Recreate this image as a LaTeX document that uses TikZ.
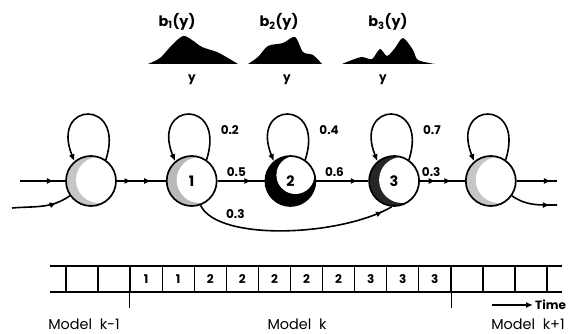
\documentclass[tikz,border=0pt]{standalone}
\usepackage{fontspec}
\setmainfont{Poppins}
\usetikzlibrary{positioning,arrows.meta,decorations.markings}

\tikzset{
  hstate/.style={circle, draw, line width=1.7pt, minimum size=50pt, inner sep=0pt, font=\bfseries\Large},
  speck/.style={path picture={
      \fill[#1] (path picture bounding box.south west) rectangle (path picture bounding box.north east);
      \fill[white] ([xshift=8pt,yshift=1pt]path picture bounding box.center) circle (23pt);}},
  blot/.style={path picture={
      \fill[black] (path picture bounding box.south west) rectangle (path picture bounding box.north east);
      \fill[white] ([xshift=5pt,yshift=6pt]path picture bounding box.center) circle (19pt);}},
  trans/.style={line width=1.6pt},
  arr/.style={-{Latex[length=7pt,width=6pt]}},
  marr/.style={postaction={decorate}, decoration={markings,
      mark=at position #1 with {\arrow{Latex[length=7pt,width=6pt]}}}},
  dmarr/.style 2 args={postaction={decorate}, decoration={markings,
      mark=at position #1 with {\arrow{Latex[length=7pt,width=6pt]}},
      mark=at position #2 with {\arrow{Latex[length=7pt,width=6pt]}}}},
  prob/.style={font=\bfseries\large},
  cell/.style={draw, line width=1.4pt, minimum width=32.07pt, minimum height=26pt, inner sep=0pt, font=\bfseries\large},
  dens/.style={fill=black, line width=0.8pt},
  model/.style={font=\Large, anchor=base},
}

\begin{document}
\begin{tikzpicture}[x=1pt,y=1pt]
    \useasboundingbox (0,0) rectangle (582,334);

    % output densities
    \fill[dens] plot[smooth] coordinates {(148,270) (160,276) (172,289) (183,298) (192,294) (202,287) (217,282) (228,276) (238,270)} -- cycle;
    \fill[dens] plot[smooth] coordinates {(248,270) (258,277) (268,288) (283,291) (295,297) (303,282) (313,279) (322,270)} -- cycle;
    \fill[dens] plot[smooth] coordinates {(342,270) (352,274) (362,277) (372,275) (380,285) (387,278) (395,286) (403,296) (413,284) (418,274) (435,270)} -- cycle;
    \node[prob,font=\bfseries\Large] (b1) at (177,312) {b\textsubscript{1}(y)};
    \node[prob,font=\bfseries\Large] (b2) at (279,312) {b\textsubscript{2}(y)};
    \node[prob,font=\bfseries\Large] (b3) at (388,312) {b\textsubscript{3}(y)};
    \node[prob] (y1) at (192,254) {y};
    \node[prob] (y2) at (287,254) {y};
    \node[prob] (y3) at (383,254) {y};

    % states
    \node[hstate,speck=gray!45] (s0) at (91,153) {};
    \node[hstate,speck=gray!55,right=49pt of s0] (s1) {1};
    \node[hstate,blot,right=47pt of s1] (s2) {2};
    \node[hstate,speck=black!85,right=52pt of s2] (s3) {3};
    \node[hstate,speck=gray!45,right=45pt of s3] (s4) {};

    % self loops
    \foreach \s/\p in {s0/,s1/0.2,s2/0.4,s3/0.7,s4/}
      \draw[trans,arr] (\s.55) .. controls +(72:65pt) and +(112:65pt) .. (\s.130)
        node[prob,pos=0.2,right=8pt] {\p};

    % transitions
    \coordinate (in1) at (20,153);
    \coordinate (in2) at (12,126);
    \coordinate (out1) at (557,153);
    \coordinate (out2) at (557,129);
    \draw[trans,marr=0.75] (in1) -- (s0);
    \draw[trans,marr=0.75] (in2) to[out=5,in=215] (s0.215);
    \draw[trans,dmarr={0.3}{0.7}] (s0) -- (s1);
    \draw[trans,marr=0.72] (s1) -- (s2) node[prob,pos=0.4,above] {0.5};
    \draw[trans,marr=0.8] (s2) -- (s3) node[prob,pos=0.35,above] {0.6};
    \draw[trans,dmarr={0.35}{0.7}] (s3) -- (s4) node[prob,pos=0.25,above] {0.3};
    \draw[trans,marr=0.85] (s4) -- (out1);
    \draw[trans,marr=0.85] (s4.-35) to[out=-35,in=180] (out2);
    \draw[trans,marr=0.95] (s1.290) .. controls +(-65:40pt) and +(-150:60pt) .. (s3.265)
      node[prob,pos=0.2,above right] {0.3};

    % state sequence
    \coordinate (tl) at (50,68);
    \coordinate (tr) at (562,68);
    \coordinate (bl) at (50,42);
    \coordinate (br) at (562,42);
    \draw[line width=1.4pt] (tl) -- (tr);
    \draw[line width=1.4pt] (bl) -- (br);
    \foreach \lab [count=\i] in {{},{},1,1,2,2,2,2,2,3,3,3,{},{},{}}
      \node[cell] (c\i) at ({66+32.07*(\i-0.5)},55) {\lab};
    \coordinate (t1) at ([yshift=-15pt]c3.south west);
    \coordinate (t2) at ([yshift=-15pt]c12.south east);
    \draw[line width=1pt] (c3.south west) -- (t1);
    \draw[line width=1pt] (c12.south east) -- (t2);
    \coordinate (ta) at (492,29);
    \node[prob,anchor=west,inner sep=2pt] (time) at (533,29) {Time};
    \draw[line width=1.4pt,arr] (ta) -- (time.west);
    \node[model] (mk0) at (84,4) {Model\ \ k-1};
    \node[model] (mk) at (297,4) {Model\ \ k};
    \node[model] (mk1) at (528,4) {Model\ \ k+1};
\end{tikzpicture}
\end{document}
